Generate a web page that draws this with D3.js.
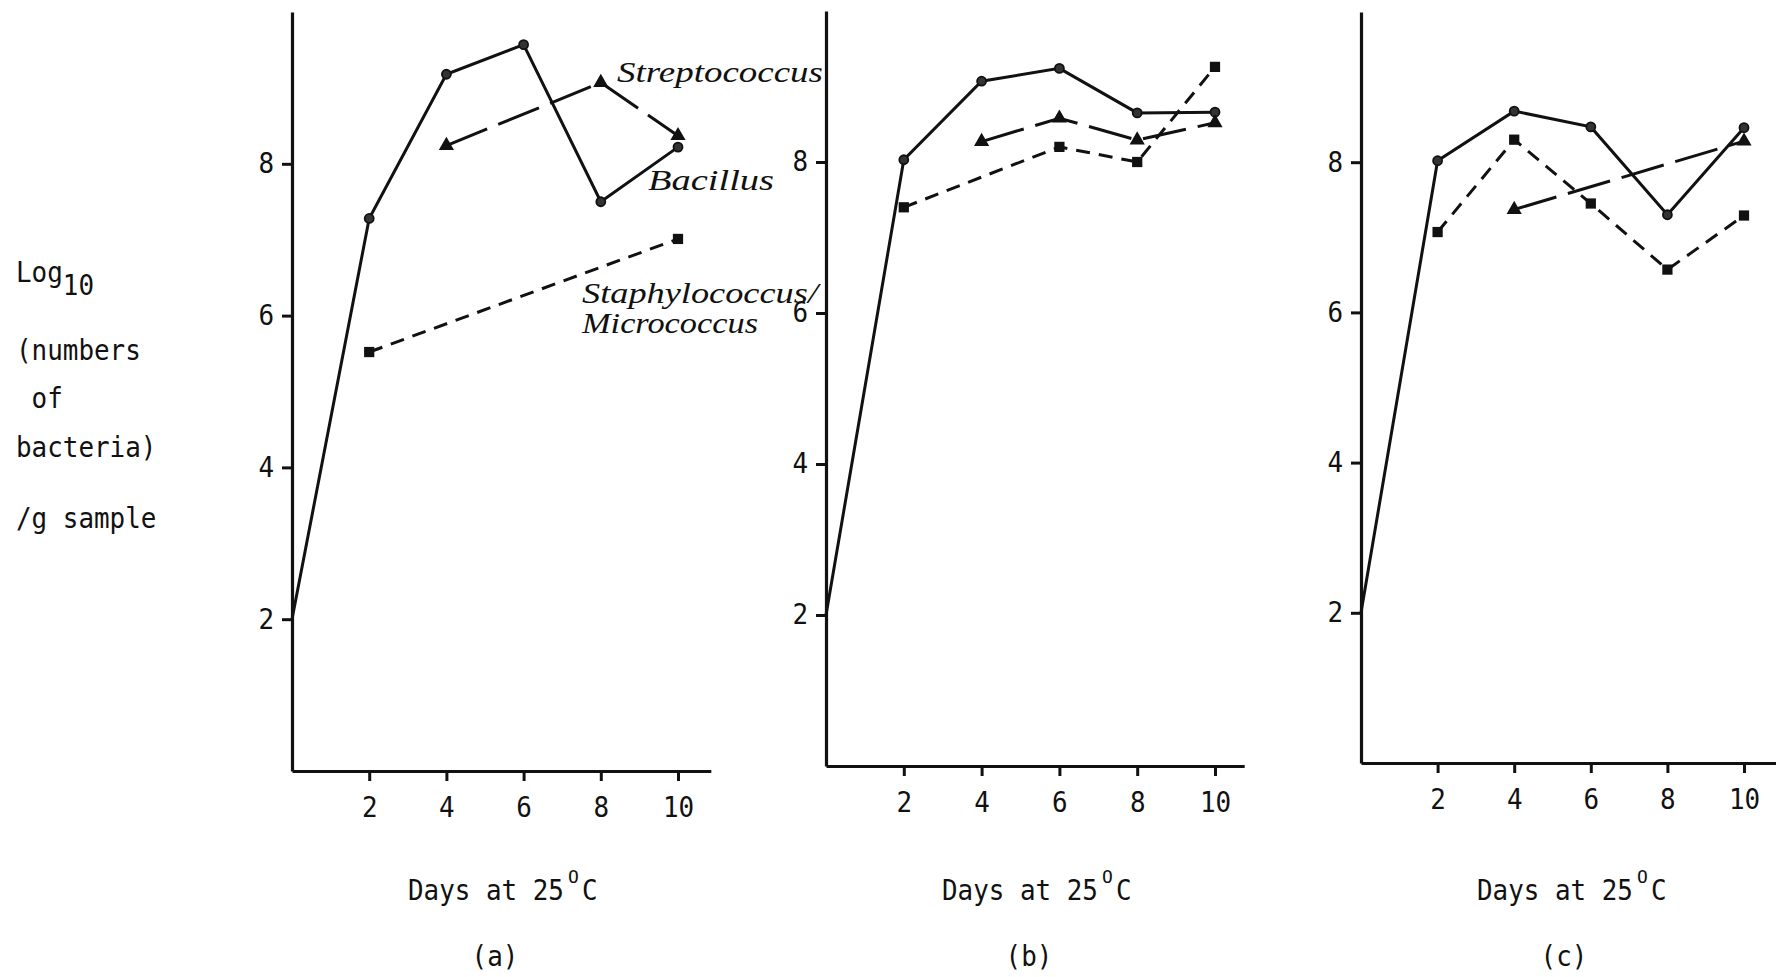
<!DOCTYPE html>
<html lang="en">
<head>
    <meta charset="UTF-8">
    <title>Bacteria counts</title>
    <script src="https://cdnjs.cloudflare.com/ajax/libs/d3/7.8.5/d3.min.js"></script>
    <style>
      body { margin: 0; background: #fff; }
      text { font-family: "DejaVu Sans Mono", monospace; fill: #111; }
      .cursive { font-family: "Liberation Serif", serif; font-style: italic; }
    </style>
</head>
<body>
<svg id="chart" width="1776" height="977"></svg>
<script>
    // sampling days
    const days = [0, 2, 4, 6, 8, 10];
    const xTicks = [2, 4, 6, 8, 10];
    const yTicks = [2, 4, 6, 8];
    const panelLabels = ['(a)', '(b)', '(c)'];

    // Bacillus (solid line, circles)
    const bacillusA = [2.0, 7.28, 9.18, 9.57, 7.50, 8.22];
    const bacillusB = [2.0, 8.03, 9.07, 9.24, 8.65, 8.66];
    const bacillusC = [2.0, 8.02, 8.68, 8.47, 7.30, 8.46];

    // Streptococcus (long dash, triangles)
    const streptoDaysA = [4, 8, 10];
    const streptoA = [8.24, 9.07, 8.37];
    const streptoDaysB = [4, 6, 8, 10];
    const streptoB = [8.27, 8.58, 8.29, 8.52];
    const streptoDaysC = [4, 10];
    const streptoC = [7.37, 8.28];

    // Staphylococcus/Micrococcus (short dash, squares)
    const staphDaysA = [2, 10];
    const staphA = [5.52, 7.01];
    const staphDaysB = [2, 6, 8, 10];
    const staphB = [7.40, 8.20, 8.00, 9.26];
    const staphDaysC = [2, 4, 6, 8, 10];
    const staphC = [7.07, 8.30, 7.45, 6.57, 7.29];

    const zip = (xs, ys) => xs.map((d, i) => ({ day: d, v: ys[i] }));

    const panels = [
      { x0: 292, y0: 771, perDay: 38.6, perUnit: 75.9, xMax: 10.85,
        series: [zip(days, bacillusA), zip(streptoDaysA, streptoA), zip(staphDaysA, staphA)] },
      { x0: 826, y0: 766, perDay: 38.9, perUnit: 75.5, xMax: 10.75,
        series: [zip(days, bacillusB), zip(streptoDaysB, streptoB), zip(staphDaysB, staphB)] },
      { x0: 1361, y0: 763, perDay: 38.3, perUnit: 75.1, xMax: 11.0,
        series: [zip(days, bacillusC), zip(streptoDaysC, streptoC), zip(staphDaysC, staphC)] }
    ];

    const styles = [
      { dash: null, marker: 'circle' },
      { dash: '44,12', marker: d3.symbolTriangle },
      { dash: '14,9', marker: d3.symbolSquare }
    ];

    // narrow typewriter look: fixed advance per character
    const FS = 28, ADV = 15.6;
    const SX = ADV / (FS * 0.602);
    const narrow = (sel, s) => sel.attr('textLength', s.length * ADV).attr('lengthAdjust', 'spacingAndGlyphs');

    const svg = d3.select('#chart');
    svg.append('rect').attr('width', 1776).attr('height', 977).attr('fill', '#fff');

    panels.forEach((p, pi) => {
      const x = d3.scaleLinear().domain([0, p.xMax]).range([p.x0, p.x0 + p.xMax * p.perDay]);
      const y = d3.scaleLinear().domain([0, 10]).range([p.y0, p.y0 - 10 * p.perUnit]);
      const g = svg.append('g');

      const yAxis = g.append('g')
        .attr('transform', `translate(${p.x0},0)`)
        .call(d3.axisLeft(y).tickValues(yTicks).tickSize(10).tickSizeOuter(0).tickPadding(8)
          .tickFormat(d3.format('d')));
      const xAxis = g.append('g')
        .attr('transform', `translate(0,${p.y0})`)
        .call(d3.axisBottom(x).tickValues(xTicks).tickSize(10).tickSizeOuter(0).tickPadding(16)
          .tickFormat(d3.format('d')));

      [yAxis, xAxis].forEach(a => {
        a.select('.domain').attr('stroke', '#111').attr('stroke-width', 3.2);
        a.selectAll('.tick line').attr('stroke', '#111').attr('stroke-width', 3);
        a.selectAll('.tick text')
          .attr('font-size', FS)
          .attr('font-family', '"DejaVu Sans Mono", monospace')
          .attr('fill', '#111')
          .each(function (d) { narrow(d3.select(this), String(d)); });
      });

      const line = d3.line().x(d => x(d.day)).y(d => y(d.v));

      p.series.forEach((s, si) => {
        const st = styles[si];
        g.append('path')
          .datum(s)
          .attr('d', line)
          .attr('fill', 'none')
          .attr('stroke', '#111')
          .attr('stroke-width', 3)
          .attr('stroke-dasharray', st.dash);

        const pts = s.filter(d => d.day > 0);
        if (st.marker === 'circle') {
          g.selectAll(null).data(pts).enter().append('circle')
            .attr('cx', d => x(d.day)).attr('cy', d => y(d.v))
            .attr('r', 4.5).attr('fill', '#333').attr('stroke', '#111').attr('stroke-width', 1.8);
        } else {
          g.selectAll(null).data(pts).enter().append('path')
            .attr('transform', d => `translate(${x(d.day)},${y(d.v)})`)
            .attr('d', d3.symbol().type(st.marker).size(si === 1 ? 100 : 105))
            .attr('fill', '#111');
        }
      });

      // x axis title: "Days at 25" + superscript O + C (condensed by a scale transform)
      const tx = p.x0 + 116;
      g.append('text')
        .attr('transform', `translate(${tx},900) scale(${SX},1)`)
        .attr('font-size', FS)
        .text('Days at 25');
      g.append('text')
        .attr('transform', `translate(${tx + 10 * ADV + 4},883)`)
        .attr('font-size', 18)
        .text('O');
      g.append('text')
        .attr('transform', `translate(${tx + 10 * ADV + 18},900) scale(${SX},1)`)
        .attr('font-size', FS)
        .text('C');

      narrow(g.append('text'), panelLabels[pi])
        .attr('x', p.x0 + 203).attr('y', 966)
        .attr('text-anchor', 'middle')
        .attr('font-size', FS)
        .text(panelLabels[pi]);
    });

    // y axis title
    const yTitle = [
      { t: '(numbers', y: 360 },
      { t: ' of', y: 408 },
      { t: 'bacteria)', y: 457 },
      { t: '/g sample', y: 528 }
    ];
    narrow(svg.append('text'), 'Log')
      .attr('x', 16).attr('y', 282).attr('font-size', FS).text('Log');
    narrow(svg.append('text'), '10')
      .attr('x', 16 + 3 * ADV).attr('y', 295).attr('font-size', FS).text('10');
    svg.selectAll(null).data(yTitle).enter().append('text')
      .attr('x', 16).attr('y', d => d.y)
      .attr('font-size', FS)
      .attr('xml:space', 'preserve')
      .style('white-space', 'pre')
      .attr('textLength', d => d.t.length * ADV)
      .attr('lengthAdjust', 'spacingAndGlyphs')
      .text(d => d.t);

    // series labels in panel (a)
    const seriesLabels = [
      { t: 'Streptococcus', x: 617, y: 82, w: 206 },
      { t: 'Bacillus', x: 648, y: 190, w: 126 },
      { t: 'Staphylococcus/', x: 582, y: 303, w: 236 },
      { t: 'Micrococcus', x: 582, y: 333, w: 176 }
    ];
    svg.selectAll(null).data(seriesLabels).enter().append('text')
      .attr('class', 'cursive')
      .attr('x', d => d.x).attr('y', d => d.y)
      .attr('font-size', 29)
      .attr('textLength', d => d.w)
      .attr('lengthAdjust', 'spacingAndGlyphs')
      .text(d => d.t);
</script>
</body>
</html>
